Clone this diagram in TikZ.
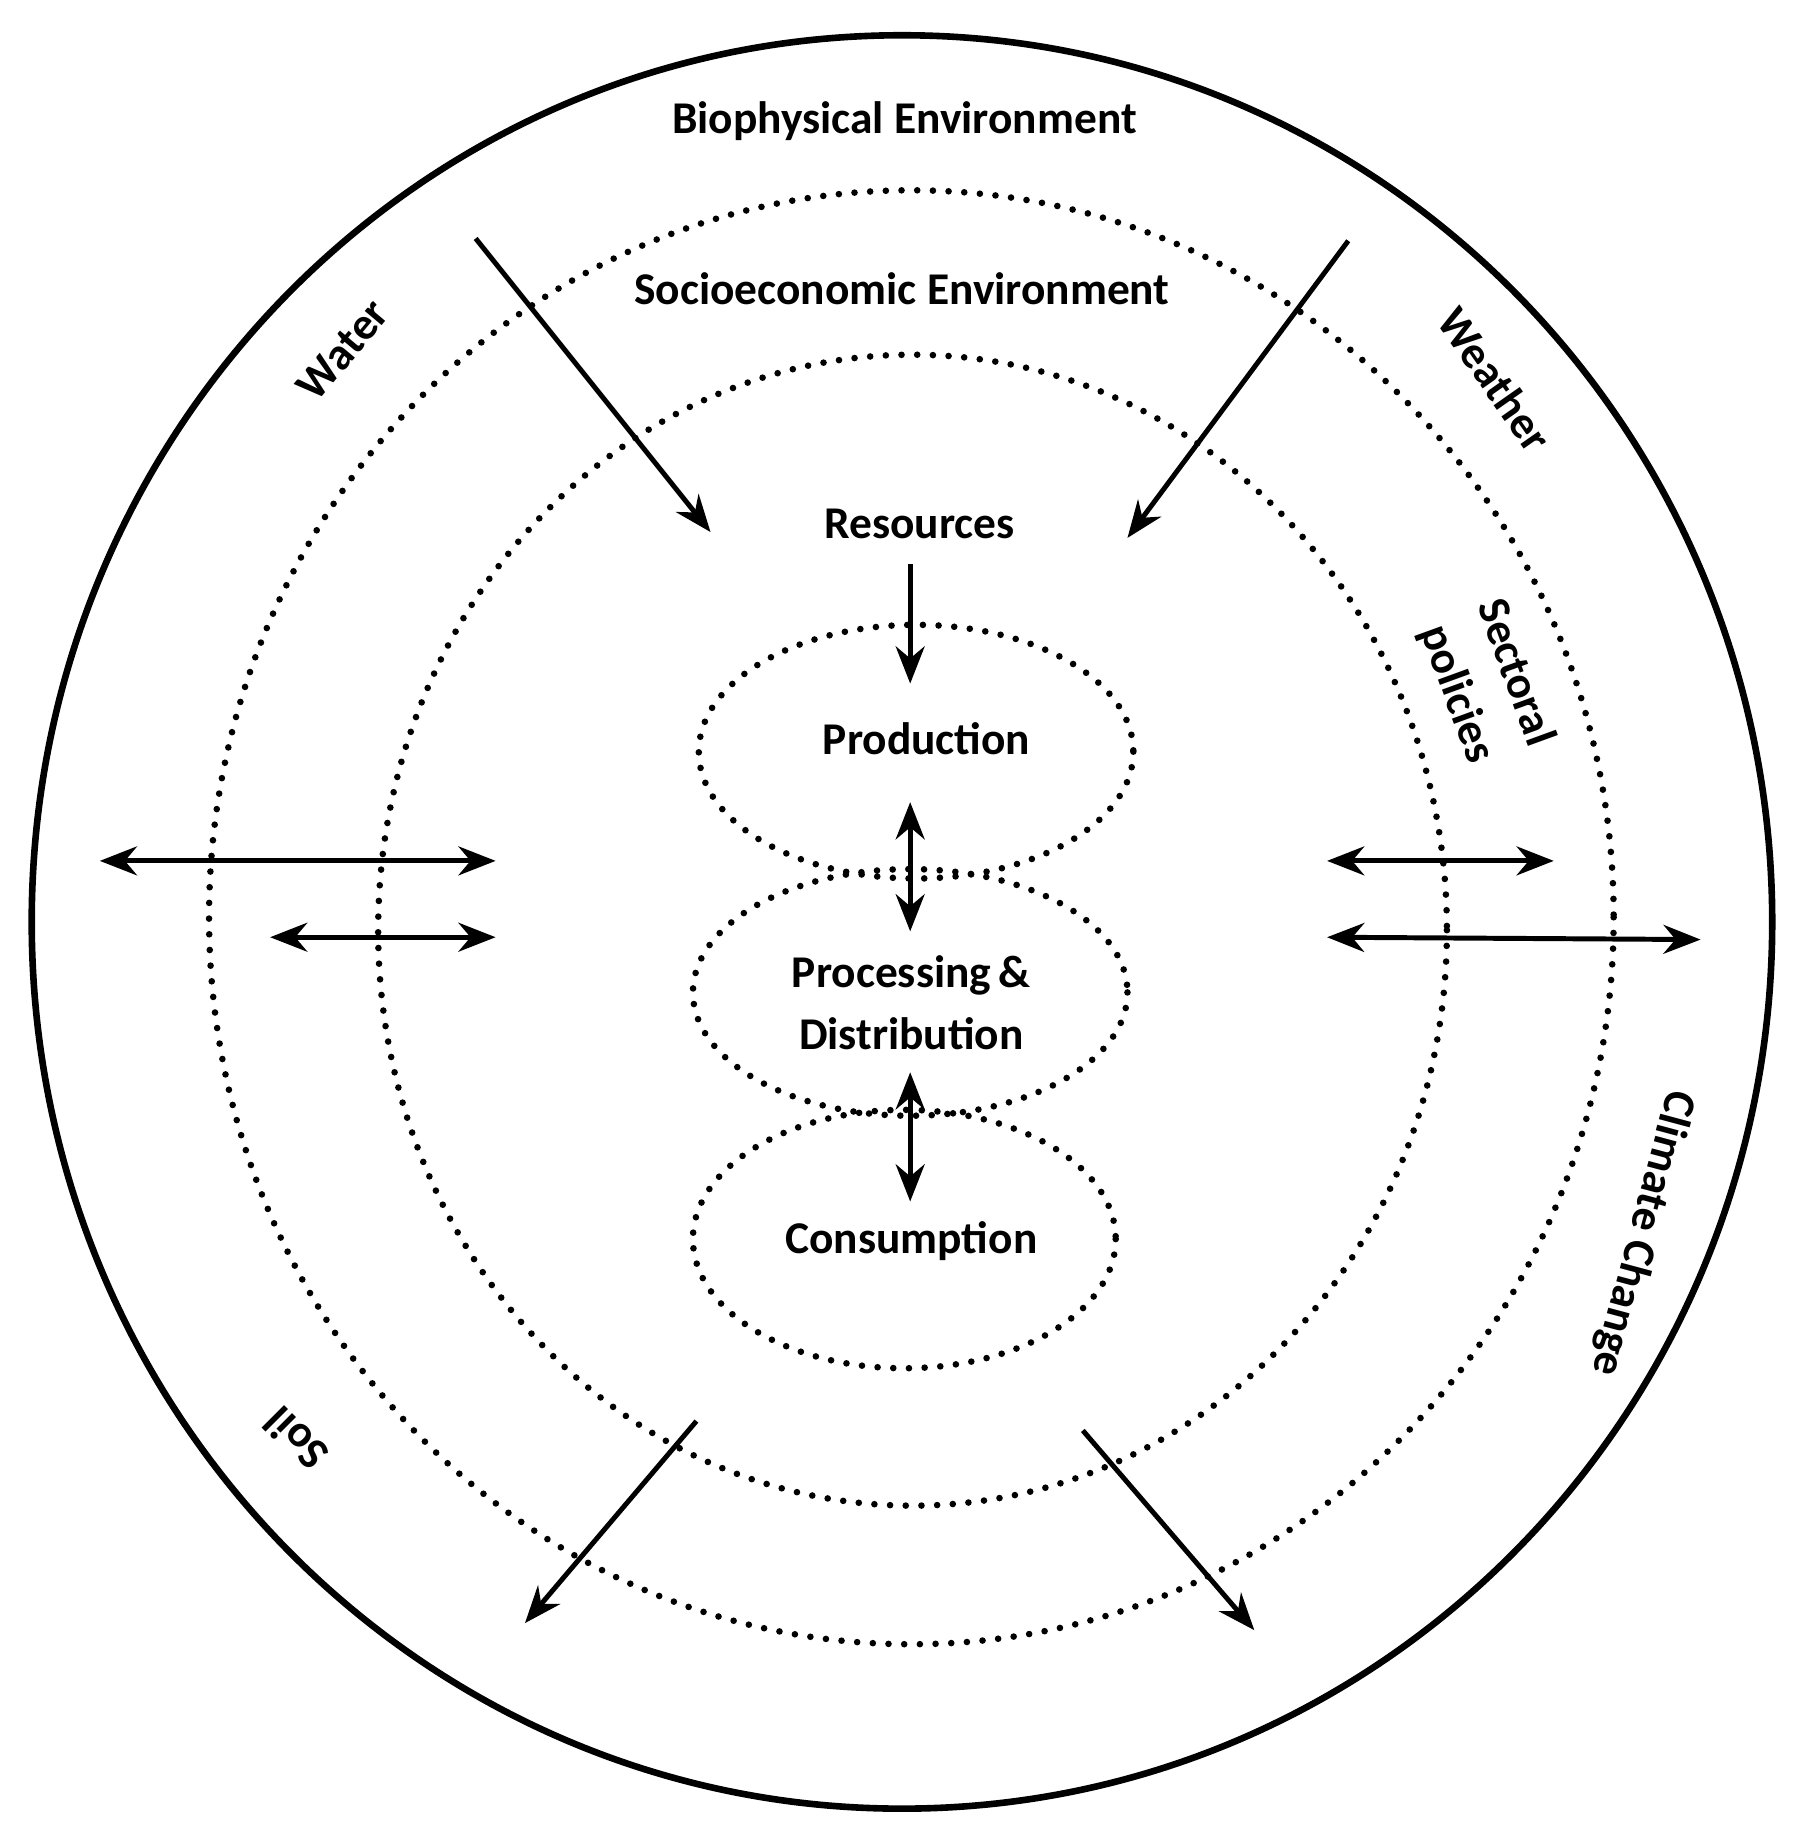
\documentclass[tikz,border=0pt]{standalone}
\usepackage{fontspec}
\setmainfont{Carlito}
\usetikzlibrary{arrows.meta}
\begin{document}
\begin{tikzpicture}[x=0.01cm,y=-0.01cm,
  lbl/.style={font=\fontsize{11}{13}\selectfont\bfseries,align=center},
  dot/.style={line width=1.6pt,line cap=round,dash pattern=on 0pt off 3.8pt},
  arr/.style={line width=1.2pt,-{Stealth[length=9pt,width=7pt]}},
  darr/.style={line width=1.2pt,{Stealth[length=9pt,width=7pt]}-{Stealth[length=9pt,width=7pt]}}]
\useasboundingbox (0,0) rectangle (1530,1565);
\draw[line width=1.6pt] (768,785) ellipse [x radius=741, y radius=755];
\draw[dot] (776,781) ellipse [x radius=598, y radius=619];
\draw[dot] (777,792) ellipse [x radius=455, y radius=490];
\draw[dot] (780,640) ellipse [x radius=185, y radius=108];
\draw[dot] (775,845) ellipse [x radius=185, y radius=105];
\draw[dot] (770,1055) ellipse [x radius=180, y radius=110];
\node[lbl] (bio) at (770,103) {Biophysical Environment};
\node[lbl] (soc) at (768,246) {Socioeconomic Environment};
\node[lbl] (res) at (783,446) {Resources};
\node[lbl] (prod) at (789,629) {Production};
\node[lbl,text width=6cm] (proc) at (776,854) {Processing\,\&\\[2pt]Distribution};
\node[lbl] (cons) at (776,1057) {Consumption};
\node[lbl,rotate=50] (water) at (292,298) {Water};
\node[lbl,rotate=-55] (weather) at (1273,323) {Weather};
\node[lbl,rotate=-70,text width=3cm] (sect) at (1265,582) {Sectoral\\[2pt]policies};
\node[lbl,rotate=-105] (clim) at (1398,1050) {Climate Change};
\node[lbl,rotate=135] (soil) at (252,1225) {Soil};
\coordinate (a1) at (405,203); \coordinate (b1) at (605,453);
\coordinate (a2) at (1148,205); \coordinate (b2) at (960,458);
\coordinate (a3) at (775,480); \coordinate (b3) at (775,582);
\coordinate (a4) at (775,683); \coordinate (b4) at (775,793);
\coordinate (a5) at (775,913); \coordinate (b5) at (775,1023);
\coordinate (a6) at (85,733); \coordinate (b6) at (422,733);
\coordinate (a7) at (230,798); \coordinate (b7) at (422,798);
\coordinate (a8) at (1130,733); \coordinate (b8) at (1323,733);
\coordinate (a9) at (1130,798); \coordinate (b9) at (1448,800);
\coordinate (a10) at (593,1210); \coordinate (b10) at (447,1382);
\coordinate (a11) at (922,1218); \coordinate (b11) at (1068,1388);
\draw[arr] (a1) -- (b1);
\draw[arr] (a2) -- (b2);
\draw[arr] (a3) -- (b3);
\draw[darr] (a4) -- (b4);
\draw[darr] (a5) -- (b5);
\draw[darr] (a6) -- (b6);
\draw[darr] (a7) -- (b7);
\draw[darr] (a8) -- (b8);
\draw[darr] (a9) -- (b9);
\draw[arr] (a10) -- (b10);
\draw[arr] (a11) -- (b11);
\end{tikzpicture}
\end{document}
